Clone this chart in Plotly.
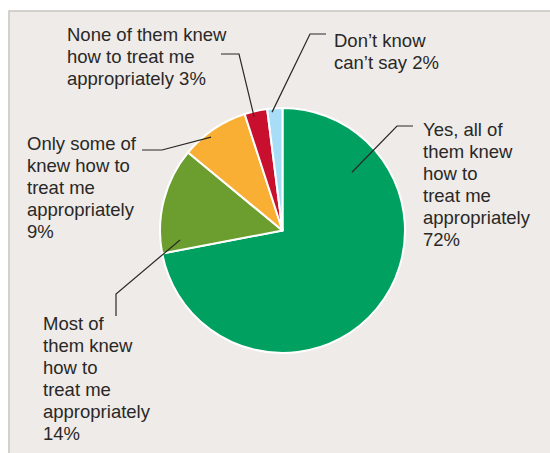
import math
import plotly.graph_objects as go

# Survey answers, clockwise from 12 o'clock
categories = [
    "Yes, all of them knew how to treat me appropriately",
    "Most of them knew how to treat me appropriately",
    "Only some of knew how to treat me appropriately",
    "None of them knew how to treat me appropriately",
    "Don’t know can’t say",
]
values = [72, 14, 9, 3, 2]
label_lines = [
    ["Yes, all of", "them knew", "how to", "treat me", "appropriately", "{v}%"],
    ["Most of", "them knew", "how to", "treat me", "appropriately", "{v}%"],
    ["Only some of", "knew how to", "treat me", "appropriately", "{v}%"],
    ["None of them knew", "how to treat me", "appropriately {v}%"],
    ["Don’t know", "can’t say {v}%"],
]
colors = ["#00a160", "#6b9e2e", "#f9ae34", "#c8102e", "#a7ddf6"]

W, H = 550, 453
TEXT = "#2a2826"
FONT = "Liberation Sans, Arial, sans-serif"
FONT_SIZE = 18.5
LINE_GAP = 22

# pie placement (pixels)
CX, CY, R = 282.5, 230.5, 122.5


def px(x):
    return x / W


def py(y):
    return 1 - y / H


# label layout: text left edge, first baseline, elbow points, anchor inside slice
# anchor = (fraction along the slice's arc, fraction of radius)
label_layout = [
    dict(x=422, base=133, elbow=[(397, 126), (413, 126)], anchor=(0.193, 0.74)),
    dict(x=42, base=327, elbow=[(116, 294), (116, 316)], anchor=(0.11, 0.84)),
    dict(x=26, base=147, elbow=[(162, 150), (142, 150)], anchor=(0.40, 0.96)),
    dict(x=66, base=38, elbow=[(239, 54), (221, 54)], anchor=(0.37, 0.96)),
    dict(x=333, base=44, elbow=[(310, 34), (326, 34)], anchor=(0.30, 0.97)),
]

fig = go.Figure()
fig.add_trace(go.Pie(
    labels=categories,
    values=values,
    sort=False,
    direction="clockwise",
    rotation=0,
    marker=dict(colors=colors, line=dict(color="white", width=2)),
    textinfo="none",
    hoverinfo="label+percent",
    showlegend=False,
    domain=dict(x=[px(CX - R), px(CX + R)], y=[py(CY + R), py(CY - R)]),
))

shapes = [
    # panel background with a thin border on the top and left
    dict(type="rect", xref="paper", yref="paper",
         x0=px(9), x1=px(W + 5), y0=py(H + 5), y1=py(11),
         fillcolor="#eeebe8", line=dict(color="#c9c5c0", width=1.5),
         layer="below"),
]

annotations = []
total = sum(values)
cum = 0.0
for v, lines, lay in zip(values, label_lines, label_layout):
    a0 = cum / total * 360
    a1 = (cum + v) / total * 360
    cum += v
    t, rf = lay["anchor"]
    ang = math.radians(a0 + t * (a1 - a0))
    ax = CX + rf * R * math.sin(ang)
    ay = CY - rf * R * math.cos(ang)
    pts = [(ax, ay)] + lay["elbow"]
    path = "M " + " L ".join(f"{px(x):.5f},{py(y):.5f}" for x, y in pts)
    shapes.append(dict(type="path", xref="paper", yref="paper", path=path,
                       line=dict(color=TEXT, width=1.2), layer="above"))
    # one annotation per line keeps the tight line spacing
    for i, s in enumerate(lines):
        top = lay["base"] + i * LINE_GAP - 15
        annotations.append(dict(
            x=px(lay["x"]), y=py(top), xref="paper", yref="paper",
            xanchor="left", yanchor="top", align="left", showarrow=False,
            text=s.format(v=v),
            font=dict(family=FONT, size=FONT_SIZE, color=TEXT),
            borderpad=0,
        ))

fig.update_layout(
    width=W, height=H,
    margin=dict(l=0, r=0, t=0, b=0),
    paper_bgcolor="white",
    plot_bgcolor="white",
    shapes=shapes,
    annotations=annotations,
)

fig.write_html("out.html")
